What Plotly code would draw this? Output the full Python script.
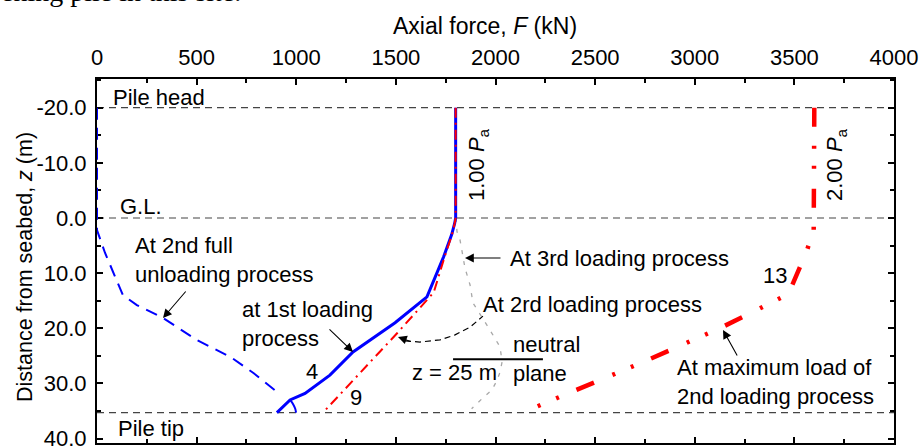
import plotly.graph_objects as go

# ---------------- data ----------------
# 1st loading process, curve "4" (blue solid)
load1_F = [1800, 1800, 1795, 1780, 1740, 1656, 1496, 1285, 1169, 1044, 969, 903]
load1_z = [-20, 0, 1, 3, 7, 14.3, 19.0, 24.3, 28.5, 31.8, 33.0, 35.3]
# small curl of curve 4 near the pile tip
curl_F = [969, 985, 995, 999]
curl_z = [33.0, 33.8, 34.6, 35.3]

# curve "9" (red thin dash-dot)
load9_F = [1800, 1800, 1795, 1782, 1745, 1690, 1506, 1134]
load9_z = [-20, 0, 1, 3, 7, 13.5, 20.9, 35.3]

# 2nd full unloading process (blue dashed)
unload_F = [0, 0, 40, 130, 200, 330, 500, 670, 785, 905]
unload_z = [-20, 2.2, 6.3, 14.0, 15.8, 18.1, 22.1, 25.2, 28.1, 31.6]

# 3rd loading process (grey dotted)
load3_F = [1800, 1807, 1822, 1847, 1872, 1887, 1972, 2023, 2033, 2023, 2008, 1982, 1937, 1880]
load3_z = [0, 2.5, 4.0, 9.1, 12.1, 15.4, 20.3, 23.4, 26.1, 27.9, 29.4, 31.2, 32.6, 34.6]

# maximum load of 2nd loading process, curve "13" (red thick dash-dot-dot)
max2_F = [3600, 3600, 3597, 3560, 3520, 3470, 3131, 2729, 2312, 2135]
max2_z = [-20, 0, 2.2, 6.2, 9.8, 13.8, 19.9, 26.3, 32.6, 35.3]

# curved pointer of "At 2rd loading process" (black thin dashed)
ptr2_F = [1546, 1621, 1721, 1797, 1872, 1937]
ptr2_z = [22.3, 22.5, 22.1, 21.2, 19.8, 17.8]

# reference levels
pile_head_z = -20
ground_z = 0
pile_tip_z = 35.3
neutral_z = 25.6
neutral_F = [1787, 2238]

x_tick_vals = [0, 500, 1000, 1500, 2000, 2500, 3000, 3500, 4000]
x_tick_text = ["0", "500", "1000", "1500", "2000", "2500", "3000", "3500", "4000"]
y_tick_vals = [-20, -10, 0, 10, 20, 30, 40]
y_tick_text = ["-20.0", "-10.0", "0.0", "10.0", "20.0", "30.0", "40.0"]

# ---------------- layout geometry ----------------
W, H = 919, 448
L, R, T, B = 97, 25, 79, 5
PW, PH = W - L - R, H - T - B
FONT = "Liberation Sans, Arial, Helvetica, sans-serif"
FS = 22


def px(xp):
    return (xp - L) / PW


def py(yp):
    return (H - B - yp) / PH


fig = go.Figure()

fig.add_trace(go.Scatter(x=unload_F, y=unload_z, mode="lines",
                         line=dict(color="#0000FF", width=2, dash="12px,8px")))
fig.add_trace(go.Scatter(x=load3_F, y=load3_z, mode="lines",
                         line=dict(color="#a8a8a8", width=1.3, dash="4px,7px")))
fig.add_trace(go.Scatter(x=ptr2_F, y=ptr2_z, mode="lines",
                         line=dict(color="#000000", width=1.2, dash="6px,4px")))
fig.add_trace(go.Scatter(x=load1_F, y=load1_z, mode="lines",
                         line=dict(color="#0000FF", width=3)))
fig.add_trace(go.Scatter(x=curl_F, y=curl_z, mode="lines", line_shape="spline",
                         line=dict(color="#0000FF", width=2)))
fig.add_trace(go.Scatter(x=load9_F, y=load9_z, mode="lines",
                         line=dict(color="#FF0000", width=2, dash="10px,5px,2px,5px")))
fig.add_trace(go.Scatter(x=max2_F, y=max2_z, mode="lines",
                         line=dict(color="#FF0000", width=4.5,
                                   dash="19px,19px,3px,17px,3px,20px")))

# horizontal reference lines
for zz in (pile_head_z, ground_z, pile_tip_z):
    fig.add_shape(type="line", xref="paper", yref="y", x0=0, x1=1, y0=zz, y1=zz,
                  line=dict(color="#444444", width=1.2, dash="7px,5px"), layer="below")
fig.add_shape(type="line", xref="x", yref="y", x0=neutral_F[0], x1=neutral_F[1],
              y0=neutral_z, y1=neutral_z, line=dict(color="black", width=2))

ann = []


def text(t, x, y, xanchor="left", yanchor="middle", angle=0, size=FS, font=FONT):
    ann.append(dict(text=t, x=px(x), y=py(y), xref="paper", yref="paper",
                    xanchor=xanchor, yanchor=yanchor, showarrow=False, textangle=angle,
                    font=dict(family=font, size=size, color="black"), align="left",
                    borderpad=0))


def arrow(tail, head):
    ann.append(dict(text="", x=px(head[0]), y=py(head[1]), xref="paper", yref="paper",
                    ax=tail[0] - head[0], ay=tail[1] - head[1], showarrow=True,
                    arrowhead=2, arrowsize=1.6, arrowwidth=1.1, arrowcolor="black",
                    standoff=0, startstandoff=0))


# cropped caption line at the top of the picture
text("ening pile in this site.", 0, 8, yanchor="bottom", size=28,
     font="Liberation Serif, Times New Roman, serif")

text("Axial force, <i>F</i> (kN)", 485, 26, xanchor="center", size=23)
text("Distance from seabed, <i>z</i> (m)", 25, 267, xanchor="center", angle=-90, size=21.5)

text("Pile head", 112, 97)
text("G.L.", 119, 206)
text("Pile tip", 117, 428)
text("At 2nd full<br>unloading process", 134, 260)
text("at 1st loading<br>process", 241, 324)
text("4", 312, 371, xanchor="center")
text("9", 356, 397, xanchor="center")
text("z = 25 m", 411, 372)
text("neutral<br>plane", 512, 359)
text("At 3rd loading process", 509, 258)
text("At 2rd loading process", 482, 304)
text("13", 775, 275, xanchor="center")
text("At maximum load of<br>2nd loading process", 676, 382)
text("1.00 <i>P</i><sub>a</sub>", 478, 165, xanchor="center", angle=-90)
text("2.00 <i>P</i><sub>a</sub>", 836, 165, xanchor="center", angle=-90)

arrow((187, 290), (163, 318))
arrow((328, 328), (353, 352))
arrow((502, 258), (465, 258))
arrow((738, 357), (723, 330))
arrow((412, 342), (398, 337))

axis_common = dict(
    showline=True, linewidth=2, linecolor="black", mirror="allticks",
    ticks="inside", ticklen=6, tickwidth=1.5, tickcolor="black",
    showgrid=False, zeroline=False, layer="below traces", automargin=False,
    ticklabeloverflow="allow",
    tickfont=dict(family=FONT, size=FS, color="black"),
)

fig.update_layout(
    width=W, height=H,
    margin=dict(l=L, r=R, t=T, b=B, pad=0, autoexpand=False),
    paper_bgcolor="white", plot_bgcolor="white",
    showlegend=False,
    font=dict(family=FONT, size=FS, color="black"),
    annotations=ann,
    xaxis=dict(side="top", range=[0, 4000], tickmode="array",
               tickvals=x_tick_vals, ticktext=x_tick_text,
               minor=dict(dtick=250, tick0=0, ticks="inside", ticklen=4,
                          tickwidth=1.5, tickcolor="black"),
               ticklabelstandoff=3, **axis_common),
    yaxis=dict(range=[40.8, -25.2], tickmode="array",
               tickvals=y_tick_vals, ticktext=y_tick_text,
               minor=dict(dtick=5, tick0=0, ticks="inside", ticklen=4,
                          tickwidth=1.5, tickcolor="black"),
               ticklabelstandoff=4, **axis_common),
)

fig.write_html("out.html", config={"displayModeBar": False},
               post_script="document.body.style.margin='0';document.body.style.padding='0';")
